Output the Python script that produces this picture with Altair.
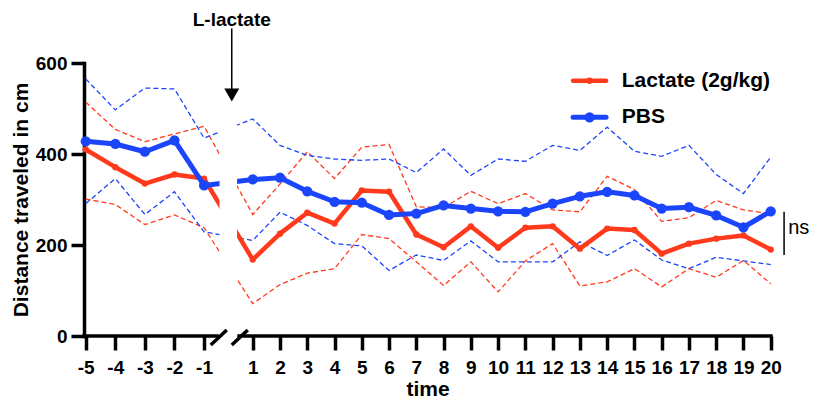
import altair as alt
import pandas as pd

# ---------------- data ----------------
times = [-5, -4, -3, -2, -1] + list(range(1, 21))
groups = ["Lactate (2g/kg)", "PBS"]
colors = ["#FF3A1C", "#1B45FB"]

lac_mean = [410, 371, 335, 355, 346, 168, 225, 271, 247, 320, 317, 223, 195, 241, 194,
            238, 241, 192, 236, 233, 181, 203, 214, 221, 190]
lac_upper = [514, 454, 427, 444, 461, 267, 334, 405, 346, 415, 421, 284, 282, 318, 291,
             313, 277, 273, 351, 322, 252, 260, 298, 277, 269]
lac_lower = [301, 289, 245, 266, 238, 71, 113, 138, 148, 223, 214, 163, 111, 163, 97,
             165, 203, 110, 119, 148, 108, 148, 129, 166, 115]
pbs_mean = [428, 422, 405, 430, 331, 344, 348, 318, 295, 293, 266, 269, 287, 280, 274,
            273, 291, 307, 317, 309, 280, 283, 265, 239, 274]
pbs_upper = [565, 497, 545, 543, 435, 477, 419, 397, 389, 386, 389, 359, 411, 353, 389,
             384, 419, 408, 459, 406, 395, 419, 355, 313, 393]
pbs_lower = [291, 346, 267, 317, 229, 210, 272, 243, 203, 198, 144, 178, 166, 209, 163,
             163, 163, 207, 177, 211, 167, 148, 173, 165, 157]

y_ticks = [0, 200, 400, 600]

# broken-axis mapping (left segment is a little wider per step)
LEFT_START = -5.126
LEFT_STEP = 1.085
POS = f"datum.t < 0 ? {LEFT_START} + (datum.t + 5) * {LEFT_STEP} : datum.t"
x_tick_pos = [round(LEFT_START + (t + 5) * LEFT_STEP, 4) if t < 0 else t for t in times]

# annotation positions (in data units)
gap_x = [-0.218, 0.424]
axis_seg_x = [-5.19, 0.497]
axis_seg_x2 = [-0.31, 20.01]
break_x = [-0.541, 0.230]
break_x2 = [0.046, 0.817]
break_y = [-19.8, -19.8]
break_y2 = [13.2, 13.2]
arrow_x = 0.23
arrow_y = [676, 536]
arrow_head_y = 529.7
arrow_label_y = 682.4
legend_line_x = [12.75, 13.96]
legend_dot_x = 13.355
legend_text_x = 14.536
legend_y = [561, 480.7]
ns_x = 20.49
ns_y = [178, 273.2]
ns_text_x = 20.64
ns_text_y = 236.7

FONT = "Liberation Sans"
point_sizes = [40, 105]
line_widths = [4.5, 5]

rows = []
for g, m, u, l in [(groups[0], lac_mean, lac_upper, lac_lower),
                   (groups[1], pbs_mean, pbs_upper, pbs_lower)]:
    for i, t in enumerate(times):
        rows.append(dict(t=t, group=g, mean=m[i], upper=u[i], lower=l[i]))
df = pd.DataFrame(rows)

xs = alt.Scale(domain=[-5.19, 20.01], nice=False, zero=False)
ys = alt.Scale(domain=[0, 600], nice=False, zero=True)

xaxis = alt.Axis(
    values=x_tick_pos,
    labelExpr=f"datum.value < 0 ? '-' + round(5 - (datum.value - ({LEFT_START})) / {LEFT_STEP}) : '' + round(datum.value)",
    domain=False, grid=False, tickSize=14, tickWidth=3.5, tickColor="black",
    labelFont=FONT, labelFontSize=19, labelFontWeight="bold", labelColor="black",
    labelBaseline="alphabetic", labelPadding=23, labelFlush=False, labelOverlap=False,
    title="time", titleFont=FONT, titleFontSize=21, titleFontWeight="bold", titleColor="black",
    titleBaseline="alphabetic", titleY=59,
)
yaxis = alt.Axis(
    values=y_ticks, domain=True, domainColor="black", domainWidth=3.5, domainCap="square",
    grid=False, tickSize=13, tickWidth=3.5, tickColor="black",
    labelFont=FONT, labelFontSize=19, labelFontWeight="bold", labelColor="black", labelPadding=4,
    title="Distance traveled in cm", titleFont=FONT, titleFontSize=21, titleFontWeight="bold",
    titleColor="black", titleAngle=270, titleBaseline="alphabetic", titleX=-57, titleY=136.5,
    titleAlign="center",
)


def X(field):
    return alt.X(field, scale=xs, axis=xaxis)


def Y(field):
    return alt.Y(field, scale=ys, axis=yaxis)


base = alt.Chart(df).transform_calculate(pos=POS)

layers = []
# dashed bands
for g, c in zip(groups, colors):
    layers.append(
        base.transform_filter(alt.datum.group == g)
        .transform_fold(["upper", "lower"], as_=["stat", "val"])
        .mark_line(color=c, strokeDash=[5, 3], strokeWidth=1.3)
        .encode(x=X("pos:Q"), y=Y("val:Q"), detail="stat:N")
    )
# mean lines + points
for g, c, ps, lw in zip(groups, colors, point_sizes, line_widths):
    b = base.transform_filter(alt.datum.group == g)
    layers.append(b.mark_line(color=c, strokeWidth=lw, strokeJoin="round")
                  .encode(x=X("pos:Q"), y=Y("mean:Q")))
    layers.append(b.mark_circle(color=c, size=ps, opacity=1)
                  .encode(x=X("pos:Q"), y=Y("mean:Q")))

# white mask for the axis break
mask_df = pd.DataFrame({"x": [gap_x[0]], "x2": [gap_x[1]], "y": [1], "y2": [600]})
layers.append(alt.Chart(mask_df).mark_rect(color="white")
              .encode(x=X("x:Q"), x2="x2:Q", y=Y("y:Q"), y2="y2:Q"))

# x axis line in two segments
seg_df = pd.DataFrame({"x": axis_seg_x, "x2": axis_seg_x2, "y": [0, 0]})
layers.append(alt.Chart(seg_df).mark_rule(color="black", strokeWidth=3.5, strokeCap="square")
              .encode(x=X("x:Q"), x2="x2:Q", y=Y("y:Q")))
# break marks
brk_df = pd.DataFrame({"x": break_x, "x2": break_x2, "y": break_y, "y2": break_y2})
layers.append(alt.Chart(brk_df).mark_rule(color="black", strokeWidth=3.5)
              .encode(x=X("x:Q"), x2="x2:Q", y=Y("y:Q"), y2="y2:Q"))

# arrow + L-lactate label
arr_df = pd.DataFrame({"x": [arrow_x], "y": [arrow_y[0]], "y2": [arrow_y[1]],
                       "hy": [arrow_head_y], "ly": [arrow_label_y], "label": ["L-lactate"]})
arr = alt.Chart(arr_df)
layers.append(arr.mark_rule(color="black", strokeWidth=1.5)
              .encode(x=X("x:Q"), y=Y("y:Q"), y2="y2:Q"))
layers.append(arr.mark_point(shape="triangle-down", filled=True, color="black", size=225, opacity=1)
              .encode(x=X("x:Q"), y=Y("hy:Q")))
layers.append(arr.mark_text(font=FONT, fontSize=19, fontWeight="bold", color="black",
                            align="center", baseline="alphabetic")
              .encode(x=X("x:Q"), y=Y("ly:Q"), text="label:N"))

# legend
leg_df = pd.DataFrame({"group": groups, "y": legend_y, "x1": [legend_line_x[0]] * 2,
                       "x2": [legend_line_x[1]] * 2, "xd": [legend_dot_x] * 2,
                       "xt": [legend_text_x] * 2})
leg = alt.Chart(leg_df)
for g, c, ps, lw in zip(groups, colors, point_sizes, line_widths):
    lg = leg.transform_filter(alt.datum.group == g)
    layers.append(lg.mark_rule(color=c, strokeWidth=lw, strokeCap="round")
                  .encode(x=X("x1:Q"), x2="x2:Q", y=Y("y:Q")))
    layers.append(lg.mark_circle(color=c, size=ps, opacity=1)
                  .encode(x=X("xd:Q"), y=Y("y:Q")))
layers.append(leg.mark_text(font=FONT, fontSize=21, fontWeight="bold", color="black",
                            align="left", baseline="middle")
              .encode(x=X("xt:Q"), y=Y("y:Q"), text="group:N"))

# ns bracket
ns_df = pd.DataFrame({"x": [ns_x], "y": [ns_y[0]], "y2": [ns_y[1]], "tx": [ns_text_x],
                      "ty": [ns_text_y], "label": ["ns"]})
nsc = alt.Chart(ns_df)
layers.append(nsc.mark_rule(color="black", strokeWidth=1.5)
              .encode(x=X("x:Q"), y=Y("y:Q"), y2="y2:Q"))
layers.append(nsc.mark_text(font=FONT, fontSize=20, color="black", align="left", baseline="middle")
              .encode(x=X("tx:Q"), y=Y("ty:Q"), text="label:N"))

chart = alt.layer(*layers).properties(
    width=687, height=273,
    autosize=alt.AutoSizeParams(type="none"),
    padding={"left": 76, "top": 55, "right": 39, "bottom": 64},
    background="white",
).configure_view(stroke=None)

chart.save("out.html", embed_options={"renderer": "svg", "actions": False})
